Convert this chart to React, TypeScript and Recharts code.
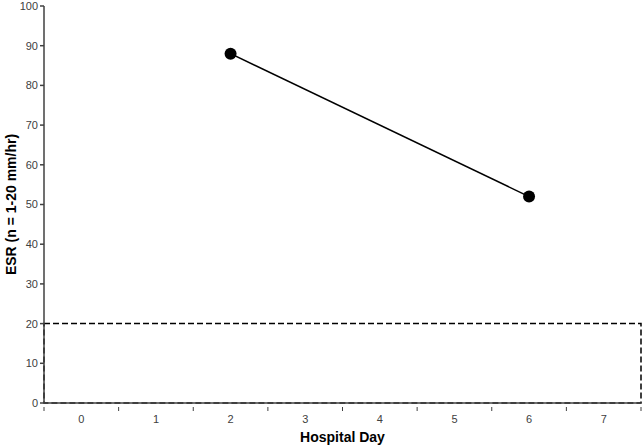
import React from 'react';
import { LineChart, Line, XAxis, YAxis, ReferenceArea } from 'recharts';

const days = [2, 6];
const esrValues = [88, 52];
const xTicks = [-0.5, 0, 0.5, 1, 1.5, 2, 2.5, 3, 3.5, 4, 4.5, 5, 5.5, 6, 6.5, 7, 7.5];
const yTicks = [0, 10, 20, 30, 40, 50, 60, 70, 80, 90, 100];
const normalRange = [0, 20];

const data = days.map((d, i) => ({ day: d, esr: esrValues[i] }));

const FONT = '"Liberation Sans", Arial, sans-serif';
const AXIS = '#404040';

// integer days get a label, half steps get a tick mark (ticks sit between days)
const DayTick = (props: any) => {
  const { x, y, payload } = props;
  const v = payload.value;
  if (Number.isInteger(v)) {
    return (
      <text x={x} y={y + 12} textAnchor="middle" fontSize={11} fill="#404040" fontFamily={FONT}>
        {v}
      </text>
    );
  }
  return <line x1={x} y1={y - 4} x2={x} y2={y} stroke={AXIS} strokeWidth={1} />;
};

export default function App() {
  return (
    <div style={{ position: 'absolute', left: 0, top: 0, background: '#fff' }}>
      <LineChart width={642} height={447} data={data} margin={{ top: 6, right: 1, left: 8, bottom: 0 }}>
        <XAxis
          dataKey="day"
          type="number"
          domain={[-0.5, 7.5]}
          ticks={xTicks}
          interval={0}
          tick={<DayTick />}
          tickLine={false}
          stroke={AXIS}
          strokeWidth={1.5}
          height={44}
          label={{ value: 'Hospital Day', position: 'insideBottom', offset: 5, style: { fontFamily: FONT, fontSize: 14, fontWeight: 'bold', fill: '#000' } }}
        />
        <YAxis
          type="number"
          domain={[0, 100]}
          ticks={yTicks}
          interval={0}
          width={36}
          stroke={AXIS}
          strokeWidth={1.5}
          tickSize={4}
          tick={{ fontSize: 11, fill: '#404040', fontFamily: FONT }}
          label={{ value: 'ESR (n = 1-20 mm/hr)', angle: -90, position: 'insideLeft', offset: 0, dx: 3, style: { textAnchor: 'middle', fontFamily: FONT, fontSize: 14, fontWeight: 'bold', fill: '#000' } }}
        />
        <ReferenceArea
          x1={-0.5}
          x2={7.5}
          y1={normalRange[0]}
          y2={normalRange[1]}
          fill="none"
          stroke="#000"
          strokeWidth={1.5}
          strokeDasharray="6 3"
          ifOverflow="visible"
        />
        <Line
          dataKey="esr"
          stroke="#000"
          strokeWidth={1.5}
          dot={{ r: 6, fill: '#000', stroke: '#000', strokeWidth: 0 }}
          isAnimationActive={false}
        />
      </LineChart>
    </div>
  );
}
